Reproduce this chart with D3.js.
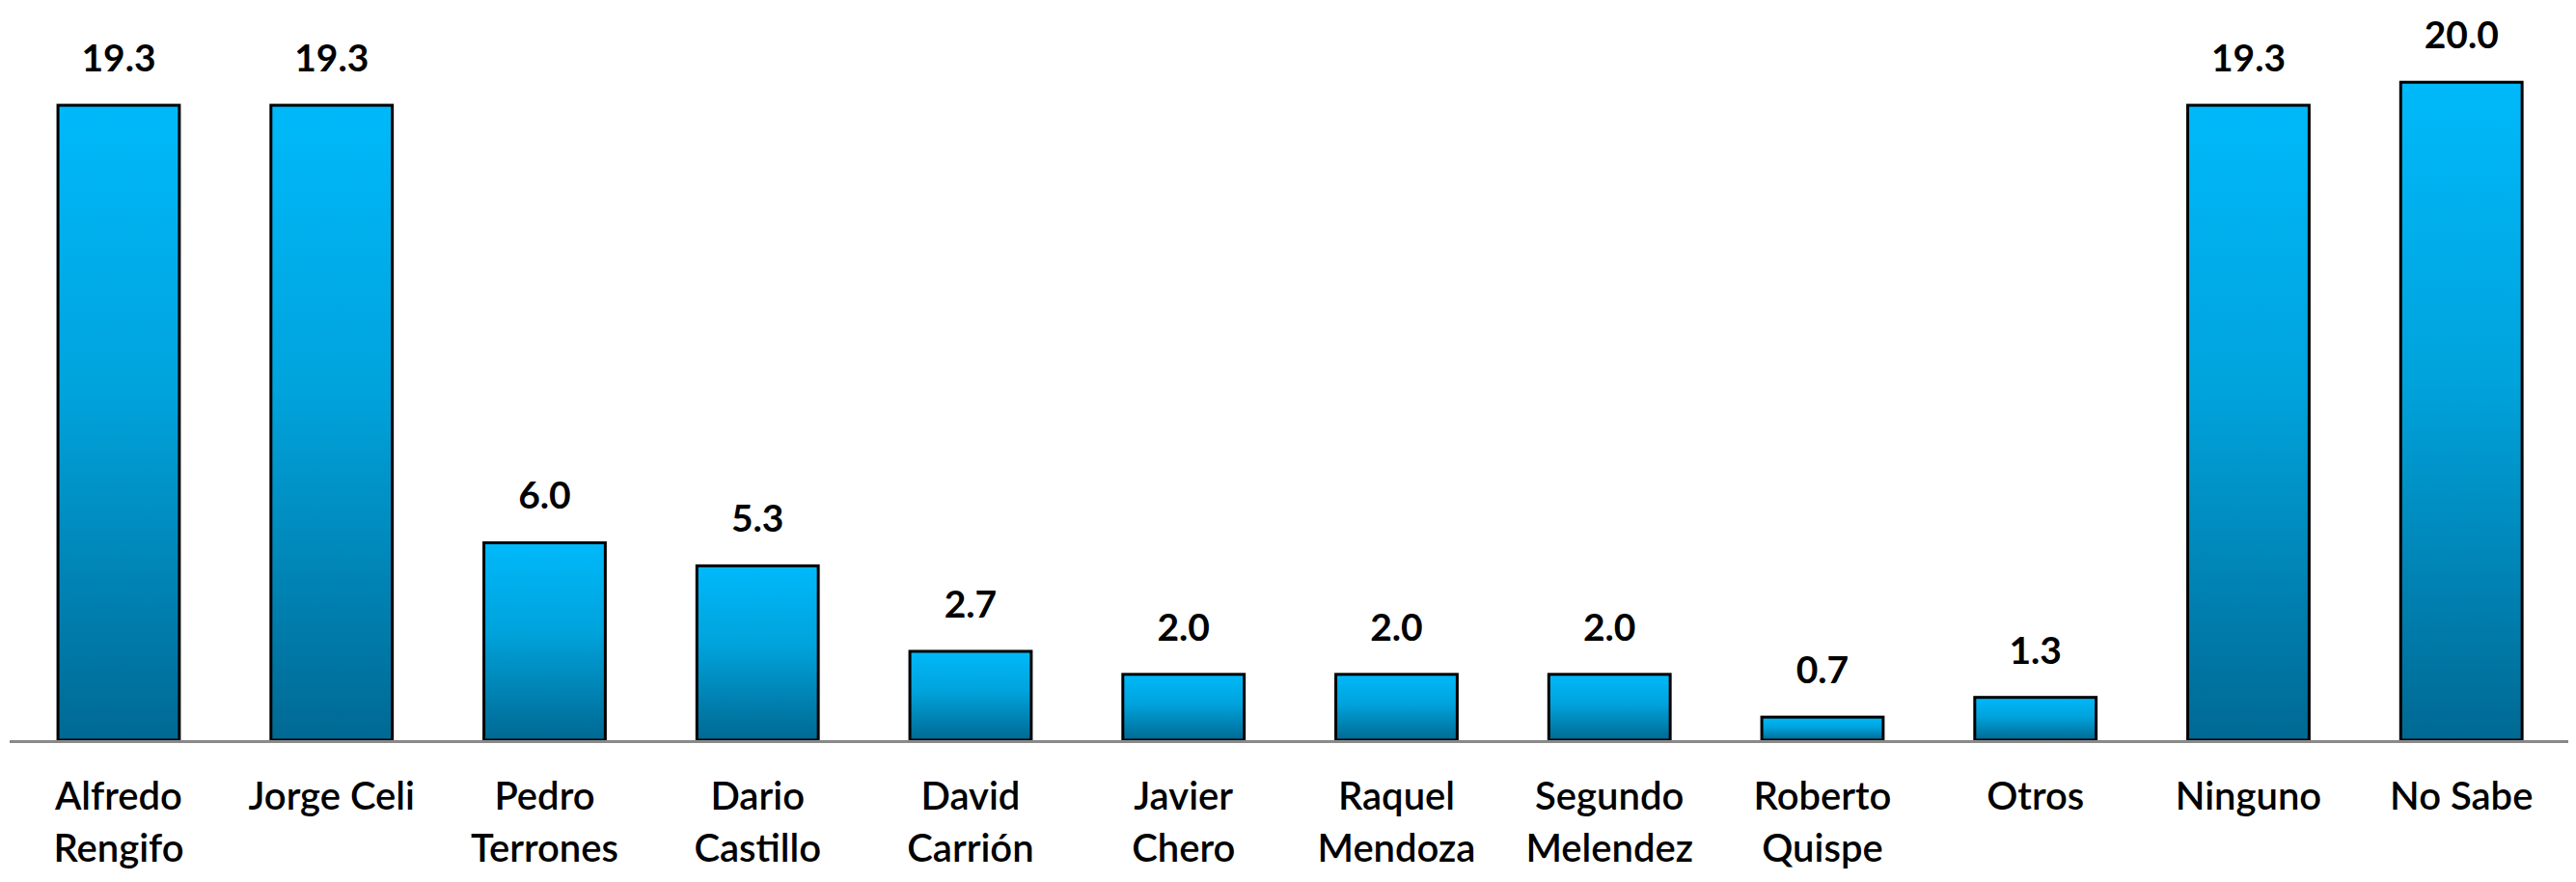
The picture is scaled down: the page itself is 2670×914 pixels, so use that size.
<!DOCTYPE html>
<html>
<head>
<meta charset="utf-8">
<script src="https://cdn.jsdelivr.net/npm/d3@7"></script>
<style>
  html, body { margin: 0; padding: 0; background: #fff; }
  svg { display: block; }
</style>
</head>
<body>
<svg id="chart" width="2670" height="914"></svg>
<script>
const categories = [
  ["Alfredo", "Rengifo"],
  ["Jorge Celi"],
  ["Pedro", "Terrones"],
  ["Dario", "Castillo"],
  ["David", "Carrión"],
  ["Javier", "Chero"],
  ["Raquel", "Mendoza"],
  ["Segundo", "Melendez"],
  ["Roberto", "Quispe"],
  ["Otros"],
  ["Ninguno"],
  ["No Sabe"]
];
const values = [19.3, 19.3, 6.0, 5.3, 2.7, 2.0, 2.0, 2.0, 0.7, 1.3, 19.3, 20.0];

const svg = d3.select("#chart");
const keys = categories.map(c => c.join(" "));

const x = d3.scaleBand()
  .domain(keys)
  .range([12.6, 2661.6])
  .paddingInner(0.43)
  .paddingOuter(0.215);

const baseY = 767;
const y = d3.scaleLinear().domain([0, 22.5]).range([baseY, 0]);

const defs = svg.append("defs");
const grad = defs.append("linearGradient")
  .attr("id", "barGrad")
  .attr("x1", 0).attr("y1", 0).attr("x2", 0).attr("y2", 1);
grad.append("stop").attr("offset", "0%").attr("stop-color", "#00b9fa");
grad.append("stop").attr("offset", "45%").attr("stop-color", "#00a3dc");
grad.append("stop").attr("offset", "100%").attr("stop-color", "#006993");

const data = keys.map((k, i) => ({ key: k, lines: categories[i], value: values[i] }));

// bars
svg.append("g").selectAll("rect")
  .data(data)
  .join("rect")
  .attr("x", d => x(d.key))
  .attr("y", d => y(d.value))
  .attr("width", x.bandwidth())
  .attr("height", d => baseY - y(d.value))
  .attr("fill", "url(#barGrad)")
  .attr("stroke", "#000")
  .attr("stroke-width", 3);

// baseline axis
const xAxis = d3.axisBottom(x).tickSize(0).tickFormat("");
const axisG = svg.append("g")
  .attr("transform", `translate(0,${baseY + 1.5})`)
  .call(xAxis);
axisG.select(".domain")
  .attr("d", `M10,0H2662`)
  .attr("stroke", "#898989")
  .attr("stroke-width", 3);

// value labels
svg.append("g").selectAll("text")
  .data(data)
  .join("text")
  .attr("x", d => x(d.key) + x.bandwidth() / 2)
  .attr("y", d => y(d.value) - 35)
  .attr("text-anchor", "middle")
  .attr("font-family", "Lato, 'Open Sans', sans-serif")
  .attr("font-weight", 700)
  .attr("font-size", 39)
  .attr("fill", "#000")
  .text(d => d3.format(".1f")(d.value));

// category labels
const catG = svg.append("g").selectAll("text")
  .data(data)
  .join("text")
  .attr("x", d => x(d.key) + x.bandwidth() / 2)
  .attr("y", baseY + 72)
  .attr("text-anchor", "middle")
  .attr("font-family", "Lato, 'Open Sans', sans-serif")
  .attr("font-weight", 600)
  .attr("font-size", 40)
  .attr("fill", "#000");
catG.selectAll("tspan")
  .data(d => d.lines.map(l => ({ l, cx: x(d.key) + x.bandwidth() / 2 })))
  .join("tspan")
  .attr("x", t => t.cx)
  .attr("dy", (t, i) => i === 0 ? 0 : 54)
  .text(t => t.l);
</script>
</body>
</html>
